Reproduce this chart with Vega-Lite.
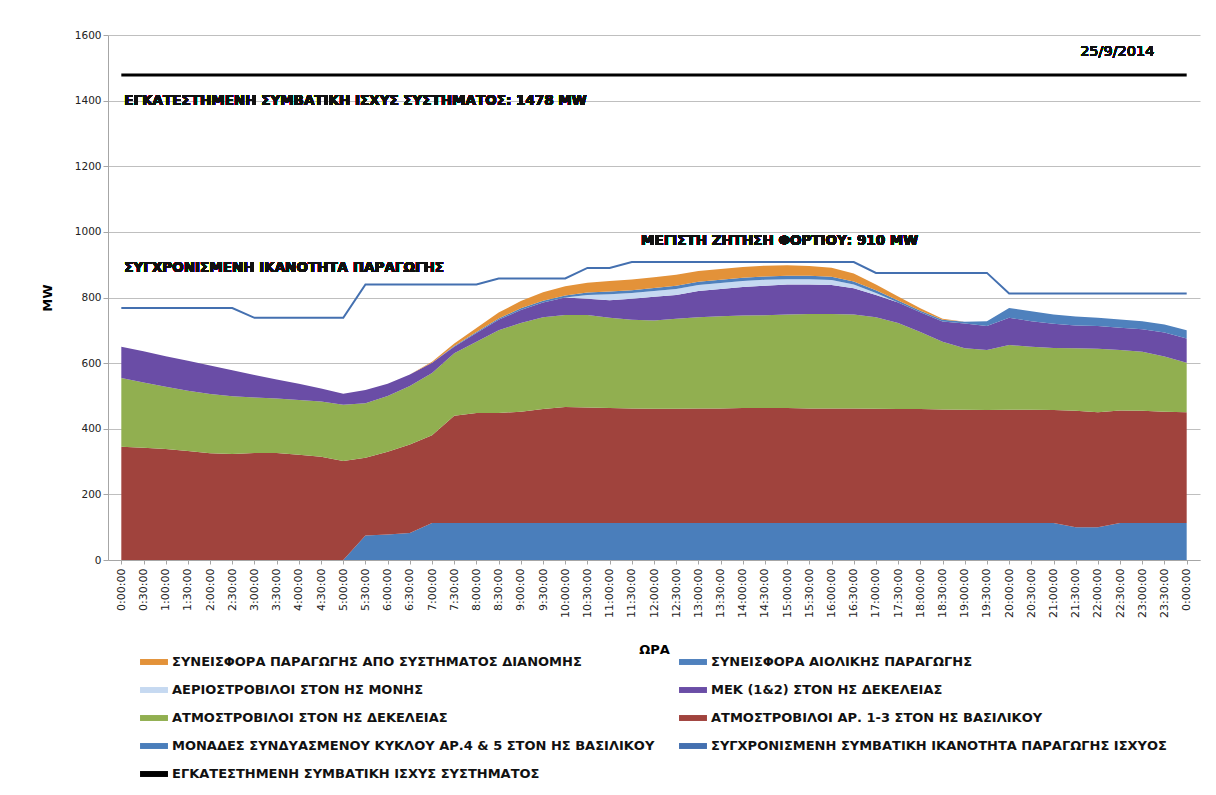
{
  "$schema": "https://vega.github.io/schema/vega-lite/v6.json",
  "width": 1092,
  "height": 525,
  "autosize": {"type": "none"},
  "padding": {"left": 108, "top": 35, "right": 16, "bottom": 235},
  "background": "white",
  "config": {
    "font": "DejaVu Sans",
    "view": {"stroke": null},
    "axis": {"labelFont": "DejaVu Sans", "titleFont": "DejaVu Sans"}
  },
  "data": {
    "values": [
      {"t": "0:00:00", "a_cc": 0, "b_red": 345, "c_green": 210, "d_mek": 95, "e_moni": 0, "f_wind": 0, "g_dist": 0, "h_sync": 768, "i_inst": 1478},
      {"t": "0:30:00", "a_cc": 0, "b_red": 342, "c_green": 199, "d_mek": 95, "e_moni": 0, "f_wind": 0, "g_dist": 0, "h_sync": 768, "i_inst": 1478},
      {"t": "1:00:00", "a_cc": 0, "b_red": 338, "c_green": 190, "d_mek": 93, "e_moni": 0, "f_wind": 0, "g_dist": 0, "h_sync": 768, "i_inst": 1478},
      {"t": "1:30:00", "a_cc": 0, "b_red": 332, "c_green": 184, "d_mek": 91, "e_moni": 0, "f_wind": 0, "g_dist": 0, "h_sync": 768, "i_inst": 1478},
      {"t": "2:00:00", "a_cc": 0, "b_red": 325, "c_green": 181, "d_mek": 87, "e_moni": 0, "f_wind": 0, "g_dist": 0, "h_sync": 768, "i_inst": 1478},
      {"t": "2:30:00", "a_cc": 0, "b_red": 323, "c_green": 176, "d_mek": 79, "e_moni": 0, "f_wind": 0, "g_dist": 0, "h_sync": 768, "i_inst": 1478},
      {"t": "3:00:00", "a_cc": 0, "b_red": 326, "c_green": 169, "d_mek": 69, "e_moni": 0, "f_wind": 0, "g_dist": 0, "h_sync": 738, "i_inst": 1478},
      {"t": "3:30:00", "a_cc": 0, "b_red": 326, "c_green": 166, "d_mek": 58, "e_moni": 0, "f_wind": 0, "g_dist": 0, "h_sync": 738, "i_inst": 1478},
      {"t": "4:00:00", "a_cc": 0, "b_red": 321, "c_green": 167, "d_mek": 49, "e_moni": 0, "f_wind": 0, "g_dist": 0, "h_sync": 738, "i_inst": 1478},
      {"t": "4:30:00", "a_cc": 0, "b_red": 315, "c_green": 168, "d_mek": 40, "e_moni": 0, "f_wind": 0, "g_dist": 0, "h_sync": 738, "i_inst": 1478},
      {"t": "5:00:00", "a_cc": 0, "b_red": 302, "c_green": 171, "d_mek": 34, "e_moni": 0, "f_wind": 0, "g_dist": 0, "h_sync": 738, "i_inst": 1478},
      {"t": "5:30:00", "a_cc": 75, "b_red": 237, "c_green": 166, "d_mek": 40, "e_moni": 0, "f_wind": 0, "g_dist": 0, "h_sync": 840, "i_inst": 1478},
      {"t": "6:00:00", "a_cc": 78, "b_red": 252, "c_green": 170, "d_mek": 37, "e_moni": 0, "f_wind": 0, "g_dist": 0, "h_sync": 840, "i_inst": 1478},
      {"t": "6:30:00", "a_cc": 82, "b_red": 270, "c_green": 178, "d_mek": 35, "e_moni": 0, "f_wind": 0, "g_dist": 0, "h_sync": 840, "i_inst": 1478},
      {"t": "7:00:00", "a_cc": 113, "b_red": 267, "c_green": 190, "d_mek": 31, "e_moni": 0, "f_wind": 0, "g_dist": 3, "h_sync": 840, "i_inst": 1478},
      {"t": "7:30:00", "a_cc": 113, "b_red": 327, "c_green": 190, "d_mek": 20, "e_moni": 0, "f_wind": 2, "g_dist": 8, "h_sync": 840, "i_inst": 1478},
      {"t": "8:00:00", "a_cc": 113, "b_red": 335, "c_green": 217, "d_mek": 27, "e_moni": 0, "f_wind": 3, "g_dist": 12, "h_sync": 840, "i_inst": 1478},
      {"t": "8:30:00", "a_cc": 113, "b_red": 335, "c_green": 252, "d_mek": 32, "e_moni": 0, "f_wind": 4, "g_dist": 18, "h_sync": 858, "i_inst": 1478},
      {"t": "9:00:00", "a_cc": 113, "b_red": 339, "c_green": 270, "d_mek": 40, "e_moni": 0, "f_wind": 5, "g_dist": 22, "h_sync": 858, "i_inst": 1478},
      {"t": "9:30:00", "a_cc": 113, "b_red": 347, "c_green": 280, "d_mek": 45, "e_moni": 0, "f_wind": 5, "g_dist": 26, "h_sync": 858, "i_inst": 1478},
      {"t": "10:00:00", "a_cc": 113, "b_red": 353, "c_green": 281, "d_mek": 53, "e_moni": 0, "f_wind": 6, "g_dist": 28, "h_sync": 858, "i_inst": 1478},
      {"t": "10:30:00", "a_cc": 113, "b_red": 352, "c_green": 282, "d_mek": 49, "e_moni": 12, "f_wind": 7, "g_dist": 30, "h_sync": 890, "i_inst": 1478},
      {"t": "11:00:00", "a_cc": 113, "b_red": 350, "c_green": 275, "d_mek": 54, "e_moni": 18, "f_wind": 8, "g_dist": 32, "h_sync": 890, "i_inst": 1478},
      {"t": "11:30:00", "a_cc": 113, "b_red": 349, "c_green": 270, "d_mek": 64, "e_moni": 18, "f_wind": 8, "g_dist": 33, "h_sync": 908, "i_inst": 1478},
      {"t": "12:00:00", "a_cc": 113, "b_red": 348, "c_green": 269, "d_mek": 72, "e_moni": 18, "f_wind": 9, "g_dist": 33, "h_sync": 908, "i_inst": 1478},
      {"t": "12:30:00", "a_cc": 113, "b_red": 348, "c_green": 274, "d_mek": 73, "e_moni": 18, "f_wind": 10, "g_dist": 33, "h_sync": 908, "i_inst": 1478},
      {"t": "13:00:00", "a_cc": 113, "b_red": 349, "c_green": 278, "d_mek": 80, "e_moni": 18, "f_wind": 10, "g_dist": 33, "h_sync": 908, "i_inst": 1478},
      {"t": "13:30:00", "a_cc": 113, "b_red": 349, "c_green": 281, "d_mek": 83, "e_moni": 18, "f_wind": 10, "g_dist": 33, "h_sync": 908, "i_inst": 1478},
      {"t": "14:00:00", "a_cc": 113, "b_red": 350, "c_green": 282, "d_mek": 87, "e_moni": 18, "f_wind": 10, "g_dist": 33, "h_sync": 908, "i_inst": 1478},
      {"t": "14:30:00", "a_cc": 113, "b_red": 350, "c_green": 283, "d_mek": 90, "e_moni": 18, "f_wind": 10, "g_dist": 33, "h_sync": 908, "i_inst": 1478},
      {"t": "15:00:00", "a_cc": 113, "b_red": 350, "c_green": 285, "d_mek": 92, "e_moni": 16, "f_wind": 10, "g_dist": 32, "h_sync": 908, "i_inst": 1478},
      {"t": "15:30:00", "a_cc": 113, "b_red": 349, "c_green": 288, "d_mek": 90, "e_moni": 16, "f_wind": 10, "g_dist": 30, "h_sync": 908, "i_inst": 1478},
      {"t": "16:00:00", "a_cc": 113, "b_red": 349, "c_green": 288, "d_mek": 88, "e_moni": 15, "f_wind": 10, "g_dist": 28, "h_sync": 908, "i_inst": 1478},
      {"t": "16:30:00", "a_cc": 113, "b_red": 349, "c_green": 286, "d_mek": 80, "e_moni": 12, "f_wind": 9, "g_dist": 24, "h_sync": 908, "i_inst": 1478},
      {"t": "17:00:00", "a_cc": 113, "b_red": 348, "c_green": 279, "d_mek": 68, "e_moni": 6, "f_wind": 8, "g_dist": 18, "h_sync": 875, "i_inst": 1478},
      {"t": "17:30:00", "a_cc": 113, "b_red": 347, "c_green": 262, "d_mek": 63, "e_moni": 0, "f_wind": 6, "g_dist": 12, "h_sync": 875, "i_inst": 1478},
      {"t": "18:00:00", "a_cc": 113, "b_red": 347, "c_green": 235, "d_mek": 60, "e_moni": 0, "f_wind": 5, "g_dist": 7, "h_sync": 875, "i_inst": 1478},
      {"t": "18:30:00", "a_cc": 113, "b_red": 346, "c_green": 206, "d_mek": 62, "e_moni": 0, "f_wind": 5, "g_dist": 3, "h_sync": 875, "i_inst": 1478},
      {"t": "19:00:00", "a_cc": 113, "b_red": 345, "c_green": 187, "d_mek": 76, "e_moni": 0, "f_wind": 5, "g_dist": 0, "h_sync": 875, "i_inst": 1478},
      {"t": "19:30:00", "a_cc": 113, "b_red": 344, "c_green": 183, "d_mek": 73, "e_moni": 0, "f_wind": 15, "g_dist": 0, "h_sync": 875, "i_inst": 1478},
      {"t": "20:00:00", "a_cc": 113, "b_red": 345, "c_green": 197, "d_mek": 83, "e_moni": 0, "f_wind": 30, "g_dist": 0, "h_sync": 812, "i_inst": 1478},
      {"t": "20:30:00", "a_cc": 113, "b_red": 345, "c_green": 192, "d_mek": 78, "e_moni": 0, "f_wind": 30, "g_dist": 0, "h_sync": 812, "i_inst": 1478},
      {"t": "21:00:00", "a_cc": 113, "b_red": 344, "c_green": 189, "d_mek": 74, "e_moni": 0, "f_wind": 28, "g_dist": 0, "h_sync": 812, "i_inst": 1478},
      {"t": "21:30:00", "a_cc": 100, "b_red": 355, "c_green": 190, "d_mek": 70, "e_moni": 0, "f_wind": 27, "g_dist": 0, "h_sync": 812, "i_inst": 1478},
      {"t": "22:00:00", "a_cc": 100, "b_red": 350, "c_green": 194, "d_mek": 69, "e_moni": 0, "f_wind": 25, "g_dist": 0, "h_sync": 812, "i_inst": 1478},
      {"t": "22:30:00", "a_cc": 113, "b_red": 343, "c_green": 184, "d_mek": 68, "e_moni": 0, "f_wind": 25, "g_dist": 0, "h_sync": 812, "i_inst": 1478},
      {"t": "23:00:00", "a_cc": 113, "b_red": 342, "c_green": 180, "d_mek": 68, "e_moni": 0, "f_wind": 25, "g_dist": 0, "h_sync": 812, "i_inst": 1478},
      {"t": "23:30:00", "a_cc": 113, "b_red": 339, "c_green": 168, "d_mek": 73, "e_moni": 0, "f_wind": 25, "g_dist": 0, "h_sync": 812, "i_inst": 1478},
      {"t": "24:00:00", "a_cc": 113, "b_red": 337, "c_green": 151, "d_mek": 74, "e_moni": 0, "f_wind": 25, "g_dist": 0, "h_sync": 812, "i_inst": 1478}
    ]
  },
  "encoding": {
    "x": {
      "field": "t",
      "type": "ordinal",
      "sort": null,
      "scale": {"type": "point", "padding": 0.6},
      "axis": {
        "title": "ΩΡΑ",
        "labelAngle": -90,
        "labelFontSize": 11,
        "labelColor": "#222",
        "labelPadding": 4,
        "labelExpr": "datum.label == '24:00:00' ? '0:00:00' : datum.label",
        "titleFontSize": 13,
        "titleFontWeight": "bold",
        "titleColor": "#000",
        "titlePadding": 26,
        "domainColor": "#A6A6A6",
        "tickColor": "#A6A6A6",
        "tickSize": 4,
        "grid": false
      }
    }
  },
  "layer": [
    {
      "transform": [{"fold": ["a_cc", "b_red", "c_green", "d_mek", "e_moni", "f_wind", "g_dist"], "as": ["key", "value"]}],
      "mark": {"type": "area", "interpolate": "linear", "opacity": 1},
      "encoding": {
        "y": {
          "field": "value",
          "type": "quantitative",
          "stack": "zero",
          "title": "MW",
          "scale": {"domain": [0, 1600], "nice": false},
          "axis": {
            "values": [0, 200, 400, 600, 800, 1000, 1200, 1400, 1600],
            "format": "d",
            "grid": true,
            "gridColor": "#BFBFBF",
            "domainColor": "#A6A6A6",
            "tickColor": "#A6A6A6",
            "tickSize": 5,
            "labelFontSize": 10.5,
            "labelColor": "#222",
            "titleFontSize": 13,
            "titleFontWeight": "bold",
            "titleColor": "#000",
            "titlePadding": 20
          }
        },
        "color": {
          "field": "key",
          "type": "nominal",
          "scale": {
            "domain": ["g_dist", "f_wind", "e_moni", "d_mek", "c_green", "b_red", "a_cc", "h_sync", "i_inst"],
            "range": ["#E39239", "#4F81BD", "#C6D9F1", "#6A4DA6", "#91AF50", "#A0433D", "#4A7EBB", "#4470B0", "#000000"]
          },
          "legend": {
            "title": null,
            "orient": "none",
            "direction": "horizontal",
            "legendX": 35,
            "legendY": 616,
            "columns": 2,
            "columnPadding": 24,
            "rowPadding": 10,
            "symbolSize": 484,
            "symbolType": "M-1.27,-0.27H1.27V0.27H-1.27Z",
            "symbolStrokeWidth": 0,
            "symbolOffset": 0,
            "labelOffset": 7,
            "labelFont": "DejaVu Sans",
            "labelFontSize": 13,
            "labelFontWeight": "bold",
            "labelColor": "#111",
            "labelLimit": 700,
            "labelExpr": "{'g_dist':'ΣΥΝΕΙΣΦΟΡΑ ΠΑΡΑΓΩΓΗΣ ΑΠΟ ΣΥΣΤΗΜΑΤΟΣ ΔΙΑΝΟΜΗΣ','f_wind':'ΣΥΝΕΙΣΦΟΡΑ ΑΙΟΛΙΚΗΣ ΠΑΡΑΓΩΓΗΣ','e_moni':'ΑΕΡΙΟΣΤΡΟΒΙΛΟΙ ΣΤΟΝ ΗΣ ΜΟΝΗΣ','d_mek':' ΜΕΚ (1&2) ΣΤΟΝ ΗΣ ΔΕΚΕΛΕΙΑΣ','c_green':'ΑΤΜΟΣΤΡΟΒΙΛΟΙ ΣΤΟΝ ΗΣ ΔΕΚΕΛΕΙΑΣ','b_red':'ΑΤΜΟΣΤΡΟΒΙΛΟΙ ΑΡ. 1-3 ΣΤΟΝ ΗΣ ΒΑΣΙΛΙΚΟΥ','a_cc':'ΜΟΝΑΔΕΣ ΣΥΝΔΥΑΣΜΕΝΟΥ ΚΥΚΛΟΥ ΑΡ.4 & 5 ΣΤΟΝ ΗΣ ΒΑΣΙΛΙΚΟΥ','h_sync':'ΣΥΓΧΡΟΝΙΣΜΕΝΗ ΣΥΜΒΑΤΙΚΗ ΙΚΑΝΟΤΗΤΑ ΠΑΡΑΓΩΓΗΣ ΙΣΧΥΟΣ','i_inst':'ΕΓΚΑΤΕΣΤΗΜΕΝΗ ΣΥΜΒΑΤΙΚΗ ΙΣΧΥΣ ΣΥΣΤΗΜΑΤΟΣ'}[datum.label]"
          }
        },
        "order": {"field": "key", "type": "ordinal", "sort": "ascending"}
      }
    },
    {
      "mark": {"type": "line", "strokeWidth": 2},
      "encoding": {
        "y": {"field": "h_sync", "type": "quantitative", "title": "MW", "scale": {"domain": [0, 1600], "nice": false}},
        "color": {"datum": "h_sync"}
      }
    },
    {
      "mark": {"type": "line", "strokeWidth": 3},
      "encoding": {
        "y": {"field": "i_inst", "type": "quantitative", "title": "MW", "scale": {"domain": [0, 1600], "nice": false}},
        "color": {"datum": "i_inst"}
      }
    },
    {
      "mark": {"type": "text", "text": "ΕΓΚΑΤΕΣΤΗΜΕΝΗ ΣΥΜΒΑΤΙΚΗ ΙΣΧΥΣ ΣΥΣΤΗΜΑΤΟΣ: 1478 MW", "align": "left", "baseline": "middle", "dx": 3, "fontSize": 13.5, "fontWeight": "bold", "color": "#111", "font": "DejaVu Sans"},
      "encoding": {"x": {"datum": "0:00:00"}, "y": {"datum": 1400}}
    },
    {
      "mark": {"type": "text", "text": "ΣΥΓΧΡΟΝΙΣΜΕΝΗ ΙΚΑΝΟΤΗΤΑ ΠΑΡΑΓΩΓΗΣ", "align": "left", "baseline": "middle", "dx": 3, "fontSize": 13.5, "fontWeight": "bold", "color": "#111", "font": "DejaVu Sans"},
      "encoding": {"x": {"datum": "0:00:00"}, "y": {"datum": 890}}
    },
    {
      "mark": {"type": "text", "text": "ΜΕΓΙΣΤΗ ΖΗΤΗΣΗ ΦΟΡΤΙΟΥ: 910 MW", "align": "left", "baseline": "middle", "dx": -13, "fontSize": 13.5, "fontWeight": "bold", "color": "#111", "font": "DejaVu Sans"},
      "encoding": {"x": {"datum": "12:00:00"}, "y": {"datum": 972}}
    },
    {
      "mark": {"type": "text", "text": "25/9/2014", "align": "right", "baseline": "middle", "dx": -10, "fontSize": 14.5, "color": "#111", "font": "DejaVu Sans"},
      "encoding": {"x": {"datum": "23:30:00"}, "y": {"datum": 1548}}
    }
  ]
}
